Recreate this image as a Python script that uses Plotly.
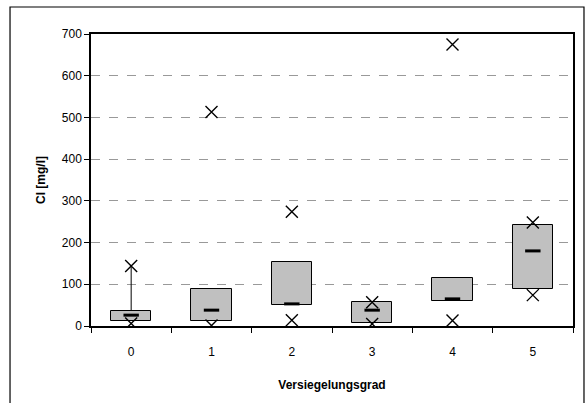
import plotly.graph_objects as go

# --- Data ---
categories = ["0", "1", "2", "3", "4", "5"]
q1 = [11, 11, 50, 8, 60, 89]
median = [26, 38, 53, 38, 65, 180]
q3 = [37, 88, 153, 57, 114, 241]
min_vals = [6, 1, 14, 5, 13, 74]
max_vals = [144, 513, 274, 57, 675, 248]

FONT = "Liberation Sans, Arial, sans-serif"

fig = go.Figure()

# boxes (Q1..Q3)
fig.add_trace(go.Bar(
    x=categories,
    y=[b - a for a, b in zip(q1, q3)],
    base=q1,
    width=0.5,
    marker=dict(color="#C0C0C0", line=dict(color="black", width=1)),
    showlegend=False,
    hoverinfo="skip",
))

# whisker on first category (max above box)
fig.add_trace(go.Scatter(
    x=[categories[0], categories[0]],
    y=[q3[0], max_vals[0]],
    mode="lines",
    line=dict(color="black", width=1),
    showlegend=False,
    hoverinfo="skip",
))

# median dashes
fig.add_trace(go.Scatter(
    x=categories, y=median,
    mode="markers",
    marker=dict(symbol="line-ew", size=11, line=dict(color="black", width=3)),
    showlegend=False,
))

# min / max crosses
fig.add_trace(go.Scatter(
    x=categories + categories, y=min_vals + max_vals,
    mode="markers",
    marker=dict(symbol="x-thin", size=12, line=dict(color="black", width=1.4)),
    showlegend=False,
))

fig.update_layout(
    width=587, height=403,
    margin=dict(l=91, r=14, t=34, b=77),
    paper_bgcolor="white",
    plot_bgcolor="white",
    font=dict(family=FONT, size=12, color="black"),
    bargap=0,
    xaxis=dict(
        type="category",
        tickson="boundaries",
        ticks="outside", ticklen=5, tickcolor="black",
        ticklabelstandoff=14,
        showline=True, linecolor="black", linewidth=1.5, mirror=True,
        showgrid=False,
        range=[-0.5, 5.5],
        title=dict(text="<b>Versiegelungsgrad</b>", font=dict(size=12), standoff=22),
    ),
    yaxis=dict(
        range=[0, 700], dtick=100,
        ticks="outside", ticklen=5, tickcolor="black",
        showline=True, linecolor="black", linewidth=1.5, mirror=True,
        showgrid=True, gridcolor="#999999", griddash="dash", gridwidth=1,
        zeroline=False,
        title=dict(text="<b>Cl [mg/l]</b>", font=dict(size=12), standoff=14),
    ),
    shapes=[dict(
        type="rect", xref="paper", yref="paper",
        x0=-0.168, x1=1.0228, y0=-0.3, y1=1.0925,
        line=dict(color="black", width=1.2),
        fillcolor="rgba(0,0,0,0)", layer="below",
    )],
)

fig.write_html("out.html", config={"displayModeBar": False},
               post_script="document.body.style.margin='0';")
